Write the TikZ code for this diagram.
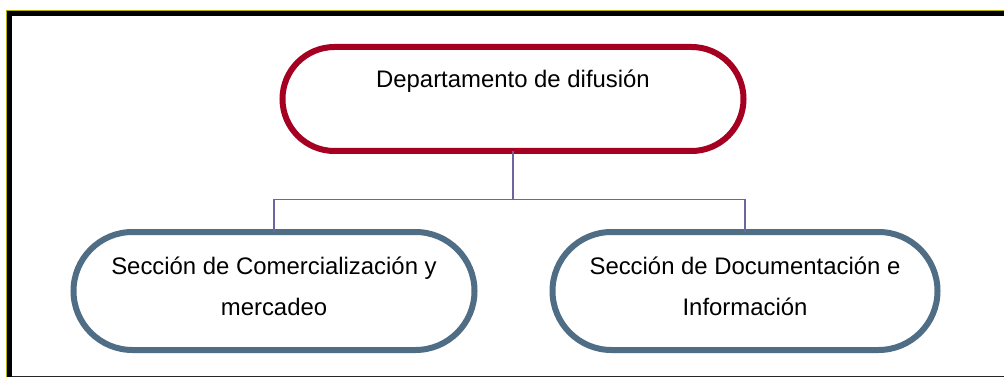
\documentclass[tikz,border=0pt]{standalone}
\usepackage{fontspec}
\setmainfont{Liberation Sans}
\definecolor{crimson}{HTML}{A50021}
\definecolor{slateb}{HTML}{4F6D84}
\definecolor{linkv}{HTML}{6F64A0}
\definecolor{olivey}{HTML}{B5B000}
\tikzset{
  topbox/.style={draw=crimson,line width=6pt,rounded corners=52pt,minimum width=461pt,minimum height=104pt,inner sep=0pt,outer sep=0pt,fill=white},
  subbox/.style={draw=slateb,line width=6pt,rounded corners=59pt,minimum height=118pt,inner sep=0pt,outer sep=0pt,fill=white},
  lbl/.style={font=\fontsize{23.9pt}{28pt}\selectfont,text=black,inner sep=0pt,align=center,anchor=base},
  link/.style={draw=linkv,line width=1.6pt}
}
\begin{document}
\begin{tikzpicture}[x=1pt,y=-1pt]
\useasboundingbox (0,0) rectangle (1004,377);
\fill[white] (0,0) rectangle (1004,377);
% outer frame
\fill[olivey] (6,10) rectangle (1004,377);
\fill[black] (7,11) rectangle (1004,377);
\fill[white] (12,16) rectangle (1004,376);
\fill[black!85] (12,376) rectangle (1004,377);
\node[topbox] (dep) at (513,99) {};
\node[subbox,minimum width=401pt] (com) at (274,291) {};
\node[subbox,minimum width=385pt] (doc) at (745,291) {};
\coordinate (bus) at (513,199.5);
\draw[link] (dep.south) -- (bus);
\draw[link] (com.north) |- (bus);
\draw[link] (doc.north) |- (bus);
\node[lbl] (t1) at (513,87.5) {Departamento de difusión};
\node[lbl] (t2a) at (274,274) {Sección de Comercialización y};
\node[lbl] (t2b) at (274,315) {mercadeo};
\node[lbl] (t3a) at (745,274) {Sección de Documentación e};
\node[lbl] (t3b) at (745,315) {Información};
\end{tikzpicture}
\end{document}
